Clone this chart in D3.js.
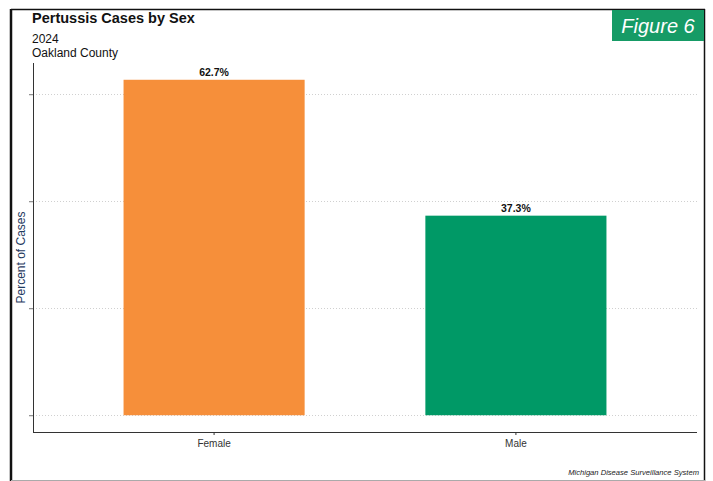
<!DOCTYPE html>
<html>
<head>
<meta charset="utf-8">
<script src="https://cdn.jsdelivr.net/npm/d3@7"></script>
<style>
  html, body { margin: 0; padding: 0; background: #fff; }
  svg { display: block; font-family: "Liberation Sans", Arial, sans-serif; }
</style>
</head>
<body>
<svg id="chart" width="713" height="481"></svg>
<script>
// Pertussis cases by sex, Oakland County 2024
const categories = ["Female", "Male"];
const percents = [62.7, 37.3];
const barColors = ["#F68F3A", "#009966"];
const yTicks = [0, 20, 40, 60];

(function () {
const svg = d3.select("#chart");
const W = 713, H = 481;

// Frame
svg.append("rect").attr("x", 0).attr("y", 0).attr("width", W).attr("height", H).attr("fill", "#fff");
svg.append("line").attr("x1", 11).attr("x2", 705).attr("y1", 9.5).attr("y2", 9.5).attr("stroke", "#111").attr("stroke-width", 1.5);
svg.append("line").attr("x1", 11).attr("x2", 11).attr("y1", 9).attr("y2", 481).attr("stroke", "#111").attr("stroke-width", 2.5);
svg.append("line").attr("x1", 704.5).attr("x2", 704.5).attr("y1", 9).attr("y2", 481).attr("stroke", "#111").attr("stroke-width", 1.5);
svg.append("line").attr("x1", 11).attr("x2", 705).attr("y1", 480.5).attr("y2", 480.5).attr("stroke", "#aaa").attr("stroke-width", 1);

// Figure badge
svg.append("rect").attr("x", 612).attr("y", 10).attr("width", 92).attr("height", 31).attr("fill", "#169B66");
svg.append("text").attr("x", 658).attr("y", 33).attr("text-anchor", "middle")
  .attr("fill", "#fff").attr("font-size", 20).attr("font-style", "italic").text("Figure 6");

// Titles
svg.append("text").attr("x", 32).attr("y", 23).attr("font-size", 14.5).attr("font-weight", "bold").attr("fill", "#111").text("Pertussis Cases by Sex");
svg.append("text").attr("x", 32).attr("y", 43).attr("font-size", 12).attr("fill", "#111").text("2024");
svg.append("text").attr("x", 32).attr("y", 57).attr("font-size", 12).attr("fill", "#111").text("Oakland County");

// Plot area
const pLeft = 33, pRight = 697, pTop = 63, pBottom = 432;
const maxV = d3.max(percents);
const pad = maxV * 0.05;
const y = d3.scaleLinear().domain([-pad, maxV + pad]).range([pBottom, pTop]);
const x = d3.scaleBand().domain(categories).range([pLeft, pRight]).paddingInner(0.4).paddingOuter(0.3);

// Gridlines
svg.append("g").selectAll("line").data(yTicks).join("line")
  .attr("x1", pLeft).attr("x2", pRight)
  .attr("y1", d => Math.round(y(d)) + 0.5).attr("y2", d => Math.round(y(d)) + 0.5)
  .attr("stroke", "#d0d0d0").attr("stroke-width", 1).attr("stroke-dasharray", "1,2");

// Bars
svg.append("g").selectAll("rect").data(categories).join("rect")
  .attr("x", d => x(d)).attr("width", x.bandwidth())
  .attr("y", (d, i) => y(percents[i])).attr("height", (d, i) => y(0) - y(percents[i]))
  .attr("fill", (d, i) => barColors[i]);

// Value labels
svg.append("g").selectAll("text").data(categories).join("text")
  .attr("x", d => x(d) + x.bandwidth() / 2)
  .attr("y", (d, i) => y(percents[i]) - 4)
  .attr("text-anchor", "middle").attr("font-size", 10.5).attr("font-weight", "bold").attr("fill", "#111")
  .text((d, i) => percents[i].toFixed(1) + "%");

// Axes
const yAxis = d3.axisLeft(y).tickValues(yTicks).tickFormat("").tickSize(4).tickSizeOuter(0);
const gy = svg.append("g").attr("transform", `translate(${pLeft},0)`).call(yAxis);
gy.select(".domain").attr("d", `M0.5,${pTop}V${pBottom}`).attr("stroke", "#333");
gy.selectAll(".tick line").attr("stroke", "#777");

const xAxis = d3.axisBottom(x).tickSize(3).tickSizeOuter(0);
const gx = svg.append("g").attr("transform", `translate(0,${pBottom})`).call(xAxis);
gx.select(".domain").attr("d", `M${pLeft},0.5H${pRight}`).attr("stroke", "#333");
gx.selectAll(".tick line").attr("stroke", "#333");
gx.selectAll(".tick text").attr("font-size", 10).attr("fill", "#333").attr("dy", "0.9em")
  .attr("font-family", "Liberation Sans, Arial, sans-serif");

// Y label
svg.append("text").attr("transform", `translate(25,${(pTop + pBottom) / 2 + 10}) rotate(-90)`)
  .attr("text-anchor", "middle").attr("font-size", 12).attr("fill", "#1F3A5F").text("Percent of Cases");

// Source
svg.append("text").attr("x", 699).attr("y", 475).attr("text-anchor", "end")
  .attr("font-size", 7.6).attr("font-style", "italic").attr("fill", "#222").text("Michigan Disease Surveillance System");
})();
</script>
</body>
</html>
